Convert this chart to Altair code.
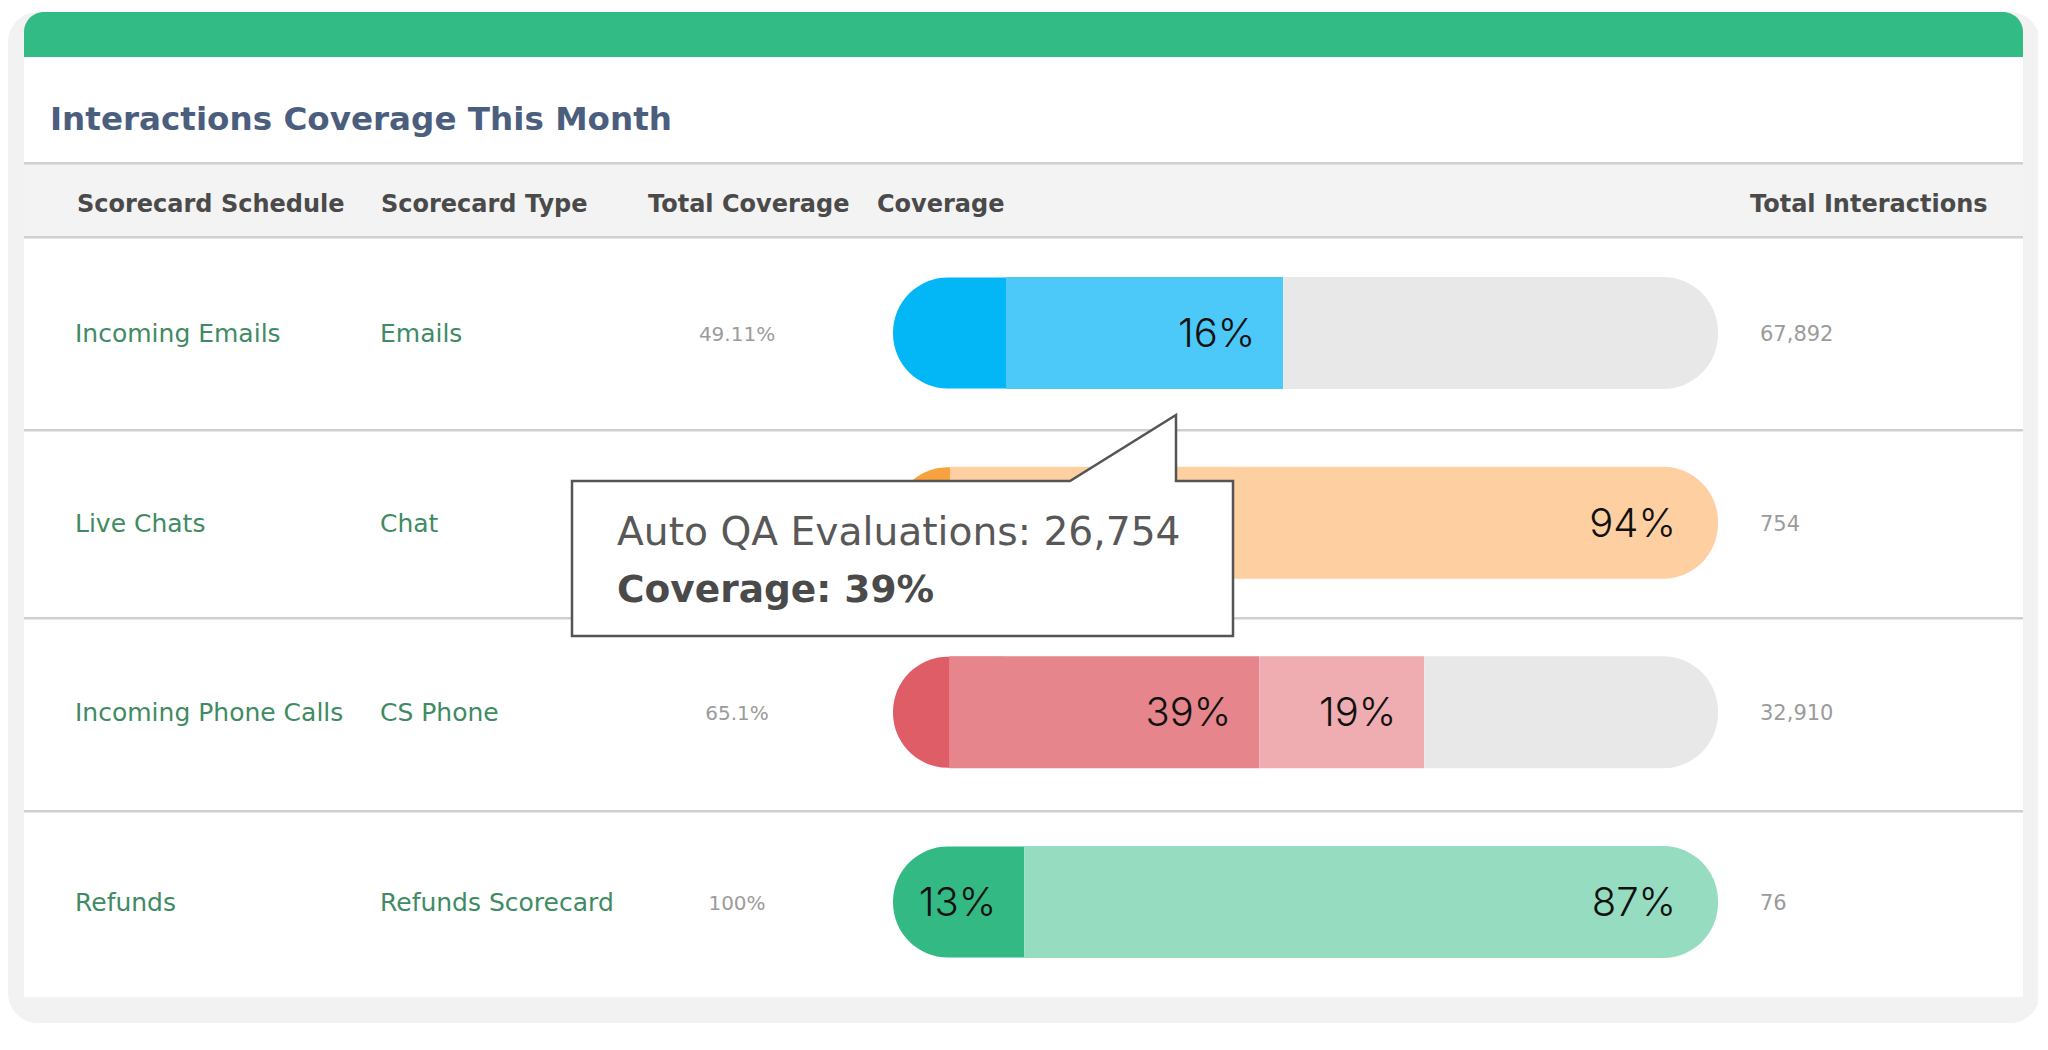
import altair as alt
import pandas as pd

# ------------------------------------------------------------------ data
title_text = "Interactions Coverage This Month"
headers = ["Scorecard Schedule", "Scorecard Type", "Total Coverage", "Coverage", "Total Interactions"]

schedules = ["Incoming Emails", "Live Chats", "Incoming Phone Calls", "Refunds"]
types = ["Emails", "Chat", "CS Phone", "Refunds Scorecard"]
total_coverage = ["49.11%", "", "65.1%", "100%"]
total_interactions = ["67,892", "754", "32,910", "76"]

# coverage bar segments (0-100 scale of the bar length)
seg_row = ["Incoming Emails", "Incoming Emails", "Incoming Emails",
           "Live Chats", "Live Chats",
           "Incoming Phone Calls", "Incoming Phone Calls", "Incoming Phone Calls", "Incoming Phone Calls",
           "Refunds", "Refunds"]
seg_series = ["Emails 1", "Emails 2", "Remaining",
              "Chat 1", "Chat 2",
              "Phone 1", "Phone 2", "Phone 3", "Remaining",
              "Refunds 1", "Refunds 2"]
seg_start = [0, 13.7, 47.3,
             0, 6.9,
             0, 6.8, 44.4, 64.4,
             0, 15.9]
seg_end = [13.7, 47.3, 100,
           6.9, 100,
           6.8, 44.4, 64.4, 100,
           15.9, 100]
seg_label = ["", "16%", "",
             "", "94%",
             "", "39%", "19%", "",
             "13%", "87%"]

tooltip_line1 = "Auto QA Evaluations: 26,754"
tooltip_line2 = "Coverage: 39%"

# ------------------------------------------------------------------ style / layout
FONT = "DejaVu Sans"
NUM_FONT = "Inter"
palette = {
    "Emails 1": "#03b6f6", "Emails 2": "#4cc8f9",
    "Chat 1": "#f8a13f", "Chat 2": "#fecfa1",
    "Phone 1": "#de5d66", "Phone 2": "#e6858b", "Phone 3": "#efadb1",
    "Refunds 1": "#33b984", "Refunds 2": "#95dcc0",
    "Remaining": "#e8e8e8",
}
W, H = 2030, 1030
CAP_MIN = 13.4  # minimum width (bar units) of the rounded left cap


def px(v):
    """page pixel -> chart pixel (page has an 8px margin)"""
    return v - 8


header_x = [77, 381, 648, 877, 1750]
one = alt.Data(values=[{"k": 1}])


def rect(x1, y1, x2, y2, fill, **kw):
    return alt.Chart(one).mark_rect(fill=fill, **kw).encode(
        x=alt.value(px(x1)), x2=alt.value(px(x2)),
        y=alt.value(px(y1)), y2=alt.value(px(y2)))


def text(t, x, y, size, color, weight="normal", align="left", baseline="alphabetic", font=FONT):
    return alt.Chart(one).mark_text(
        text=t, font=font, fontSize=size, color=color, fontWeight=weight,
        align=align, baseline=baseline).encode(x=alt.value(px(x)), y=alt.value(px(y)))


rows_df = pd.DataFrame({"row": schedules, "type": types,
                        "total": total_coverage, "inter": total_interactions})
seg_df = pd.DataFrame({"row": seg_row, "series": seg_series, "start": seg_start,
                       "end": seg_end, "label": seg_label})

yscale = alt.Scale(type="point", domain=schedules, range=[px(333), px(902)], padding=0)
xscale = alt.Scale(domain=[0, 100], range=[px(893), px(1718)], nice=False, zero=False)
cscale = alt.Scale(domain=list(palette.keys()), range=list(palette.values()))

layers = []
# page frame
layers.append(rect(8, 12, 2040, 1023, "#f2f2f2", cornerRadius=30))
layers.append(rect(24, 12, 2023, 70, "#33bb85", cornerRadiusTopLeft=20, cornerRadiusTopRight=20))
layers.append(rect(24, 57, 2023, 997, "#ffffff"))
# header band + separators
layers.append(rect(24, 163, 2023, 237, "#f3f3f3"))
for yy in [162, 236, 429, 617, 810]:
    layers.append(rect(24, yy, 2023, yy + 2.5, "#cfcfcf"))

# title and headers
layers.append(text(title_text, 50, 130, 32.6, "#4b5e7e", weight="bold"))
for h, hx in zip(headers, header_x):
    layers.append(text(h, hx, 212, 24, "#4a4a4a", weight="bold"))

# row text columns
base_rows = alt.Chart(rows_df)
yenc = alt.Y("row:N", scale=yscale, axis=None)
layers.append(base_rows.mark_text(font=FONT, fontSize=25, color="#3f8b63", align="left",
                                  baseline="middle", dy=1).encode(
    x=alt.value(px(75)), y=yenc, text="row:N"))
layers.append(base_rows.mark_text(font=FONT, fontSize=25, color="#3f8b63", align="left",
                                  baseline="middle", dy=1).encode(
    x=alt.value(px(380)), y=yenc, text="type:N"))
layers.append(base_rows.mark_text(font=FONT, fontSize=20, color="#9b9b9b", align="center",
                                  baseline="middle", dy=2).encode(
    x=alt.value(px(737)), y=yenc, text="total:N"))
layers.append(base_rows.mark_text(font=FONT, fontSize=21, color="#9b9b9b", align="left",
                                  baseline="middle", dy=2).encode(
    x=alt.value(px(1760)), y=yenc, text="inter:N"))

# coverage bars
R = 55
base_seg = alt.Chart(seg_df)
enc = dict(
    x=alt.X("start:Q", scale=xscale, axis=None),
    x2="end:Q",
    y=yenc,
    color=alt.Color("series:N", scale=cscale, legend=None),
)
# first segment: drawn with a full rounded left cap (wide enough), covered by the next segments
layers.append(base_seg.transform_filter("datum.start == 0")
              .transform_calculate(capend=f"max(datum.end, {CAP_MIN})")
              .mark_bar(size=111, opacity=1, cornerRadiusTopLeft=R, cornerRadiusBottomLeft=R)
              .encode(x=alt.X("start:Q", scale=xscale, axis=None), x2="capend:Q", y=yenc,
                      color=alt.Color("series:N", scale=cscale, legend=None)))
layers.append(base_seg.transform_filter("datum.start > 0 && datum.end < 100")
              .mark_bar(size=112, opacity=1).encode(**enc))
layers.append(base_seg.transform_filter("datum.start > 0 && datum.end == 100")
              .mark_bar(size=112, opacity=1, cornerRadiusTopRight=R, cornerRadiusBottomRight=R)
              .encode(**enc))

# bar labels
tenc = dict(x=alt.X("end:Q", scale=xscale, axis=None), y=yenc, text="label:N")
layers.append(base_seg.transform_filter("datum.label != '' && datum.end < 100")
              .mark_text(font=NUM_FONT, fontSize=40, fontWeight=300, color="#111111", align="right",
                         baseline="middle", dx=-28, dy=2).encode(**tenc))
layers.append(base_seg.transform_filter("datum.label != '' && datum.end == 100")
              .mark_text(font=NUM_FONT, fontSize=40, fontWeight=300, color="#111111", align="right",
                         baseline="middle", dx=-42, dy=2).encode(**tenc))

# tooltip callout (box with pointer), drawn as a symbol whose path is in pixel offsets
cx, cy = 902.5, 558.5
callout_path = "M -330.5 -77.5 L 167.5 -77.5 L 273.5 -143.5 L 273.5 -77.5 L 330.5 -77.5 L 330.5 77.5 L -330.5 77.5 Z"
layers.append(alt.Chart(one).mark_point(shape=callout_path, size=4, filled=True, fill="#ffffff",
                                        stroke="#555555", strokeWidth=2.5, opacity=1,
                                        strokeOpacity=1, fillOpacity=1).encode(
    x=alt.value(px(cx)), y=alt.value(px(cy))))
layers.append(text(tooltip_line1, 617, 545, 39.2, "#585858", weight="normal"))
layers.append(text(tooltip_line2, 617, 602, 37.5, "#4a4a4a", weight="bold"))

chart = alt.layer(*layers).properties(
    width=W, height=H, padding=0, background="#ffffff",
    autosize=alt.AutoSizeParams(type="none"),
).configure_view(strokeWidth=0)

chart.save("out.html", embed_options={"renderer": "svg", "actions": False})
